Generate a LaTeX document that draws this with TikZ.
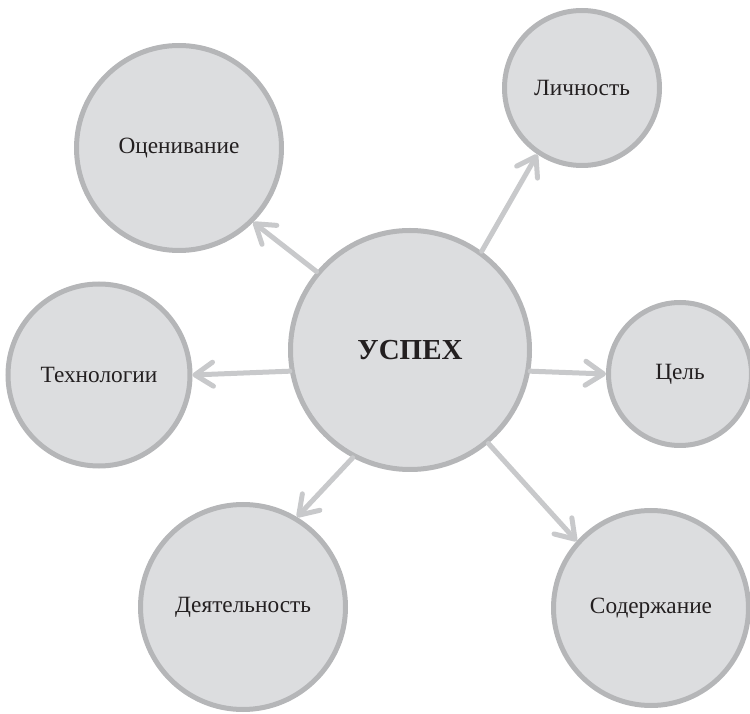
\documentclass[tikz,border=0pt]{standalone}
\usepackage{fontspec}
\setmainfont{Liberation Serif}
\usetikzlibrary{arrows.meta}
\definecolor{bubblefill}{HTML}{DCDDDF}
\definecolor{bubbleline}{HTML}{B5B6B8}
\definecolor{arrowgray}{HTML}{C8C9CB}
\definecolor{inkdark}{HTML}{231F20}
\begin{document}
\begin{tikzpicture}[x=1pt,y=1pt,
  bubble/.style={circle, fill=bubblefill, draw=bubbleline, line width=5pt,
    inner sep=0pt, text=inkdark, font=\fontsize{23.3}{28}\selectfont},
  link/.style={draw=arrowgray, line width=5pt, line cap=round,
    -{Straight Barb[length=18pt, width=24pt, line cap=round, line join=round]}}]
  \useasboundingbox (0,0) rectangle (750,713);
  % hub and satellites
  \node[bubble, minimum size=239pt, font=\fontsize{29}{34}\selectfont\bfseries] (hub) at (410,363) {УСПЕХ};
  \node[bubble, minimum size=205pt] (ocen) at (179,565) {Оценивание};
  \node[bubble, minimum size=155pt] (lich) at (582,625) {Личность};
  \node[bubble, minimum size=182pt] (tech) at (99,338) {Технологии};
  \node[bubble, minimum size=143pt] (cel) at (680,339) {Цель};
  \node[bubble, minimum size=205pt] (deyat) at (243,106) {Деятельность};
  \node[bubble, minimum size=195pt] (sod) at (651,105) {Содержание};
  % arrows from the hub
  \draw[link] (hub.140.8) -- (ocen.-45.7);
  \draw[link] (hub.54.8) -- (lich.236);
  \draw[link] (hub.190.7) -- (tech.0);
  \draw[link] (hub.-10.2) -- (cel.180);
  \draw[link] (hub.242.6) -- (deyat.59);
  \draw[link] (hub.-50) -- (sod.138.5);
\end{tikzpicture}
\end{document}
